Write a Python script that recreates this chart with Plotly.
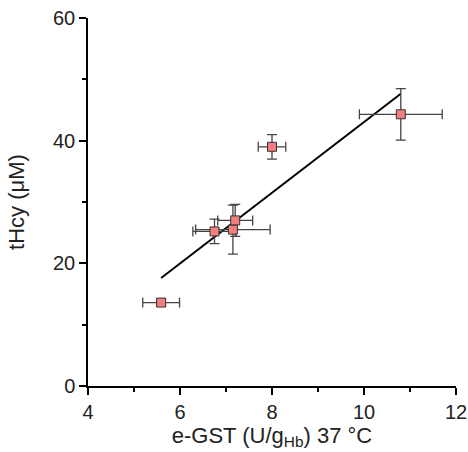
import numpy as np
import plotly.graph_objects as go

BLACK = "#000000"
GRAY = "#444444"
SALMON = "#F47F7F"

# data
egst = [5.59, 6.75, 7.15, 7.20, 8.00, 10.80]
thcy = [13.6, 25.2, 25.5, 27.0, 39.0, 44.3]
egst_err = [0.40, 0.47, 0.81, 0.38, 0.30, 0.90]
thcy_err = [0.6, 2.0, 4.0, 2.6, 2.0, 4.2]

x_ticks = [4, 6, 8, 10, 12]
y_ticks = [0, 20, 40, 60]

# linear fit drawn over the data range
slope, icpt = np.polyfit(egst, thcy, 1)
fit_x = [min(egst), max(egst)]
fit_y = [slope * v + icpt for v in fit_x]

fig = go.Figure()

fig.add_trace(go.Scatter(
    x=fit_x, y=fit_y,
    mode="lines",
    line=dict(color=BLACK, width=2),
    showlegend=False,
))

fig.add_trace(go.Scatter(
    x=egst, y=thcy,
    mode="markers",
    marker=dict(symbol="square", size=9, color=SALMON,
                line=dict(color="#333333", width=1)),
    error_x=dict(type="data", array=egst_err, color=GRAY,
                 thickness=1.3, width=5),
    error_y=dict(type="data", array=thcy_err, color=GRAY,
                 thickness=1.3, width=5),
    showlegend=False,
))

FONT = "Liberation Sans, Arial, sans-serif"
TICK = dict(family=FONT, size=20, color="#222")
TITLE = dict(family=FONT, size=22, color="#222")

fig.update_layout(
    width=468, height=452,
    plot_bgcolor="white",
    paper_bgcolor="white",
    font=TICK,
    margin=dict(l=88, r=12, t=18, b=66),
    xaxis=dict(
        range=[4, 12], tickvals=x_ticks, automargin=False,
        ticklabeloverflow="allow",
        showgrid=False, zeroline=False,
        showline=True, linecolor=BLACK, linewidth=1.5,
        ticks="outside", ticklen=7, tickwidth=1.5, tickcolor=BLACK,
        minor=dict(dtick=1, ticks="outside", ticklen=4,
                   tickwidth=1.5, tickcolor=BLACK, showgrid=False),
        tickfont=TICK,
        title=dict(text="e-GST (U/g<sub>Hb</sub>) 37 °C", font=TITLE, standoff=4),
    ),
    yaxis=dict(
        range=[0, 60], tickvals=y_ticks, automargin=False,
        ticklabeloverflow="allow",
        showgrid=False, zeroline=False,
        showline=True, linecolor=BLACK, linewidth=1.5,
        ticks="outside", ticklen=7, tickwidth=1.5, tickcolor=BLACK,
        minor=dict(dtick=10, ticks="outside", ticklen=4,
                   tickwidth=1.5, tickcolor=BLACK, showgrid=False),
        tickfont=TICK,
        title=dict(text="tHcy (μM)", font=TITLE, standoff=22),
    ),
)

# drop the default 8px page margin so the figure sits at the window corner
fig.write_html("out.html", config={"displayModeBar": False},
               post_script="document.body.style.margin='0';")
